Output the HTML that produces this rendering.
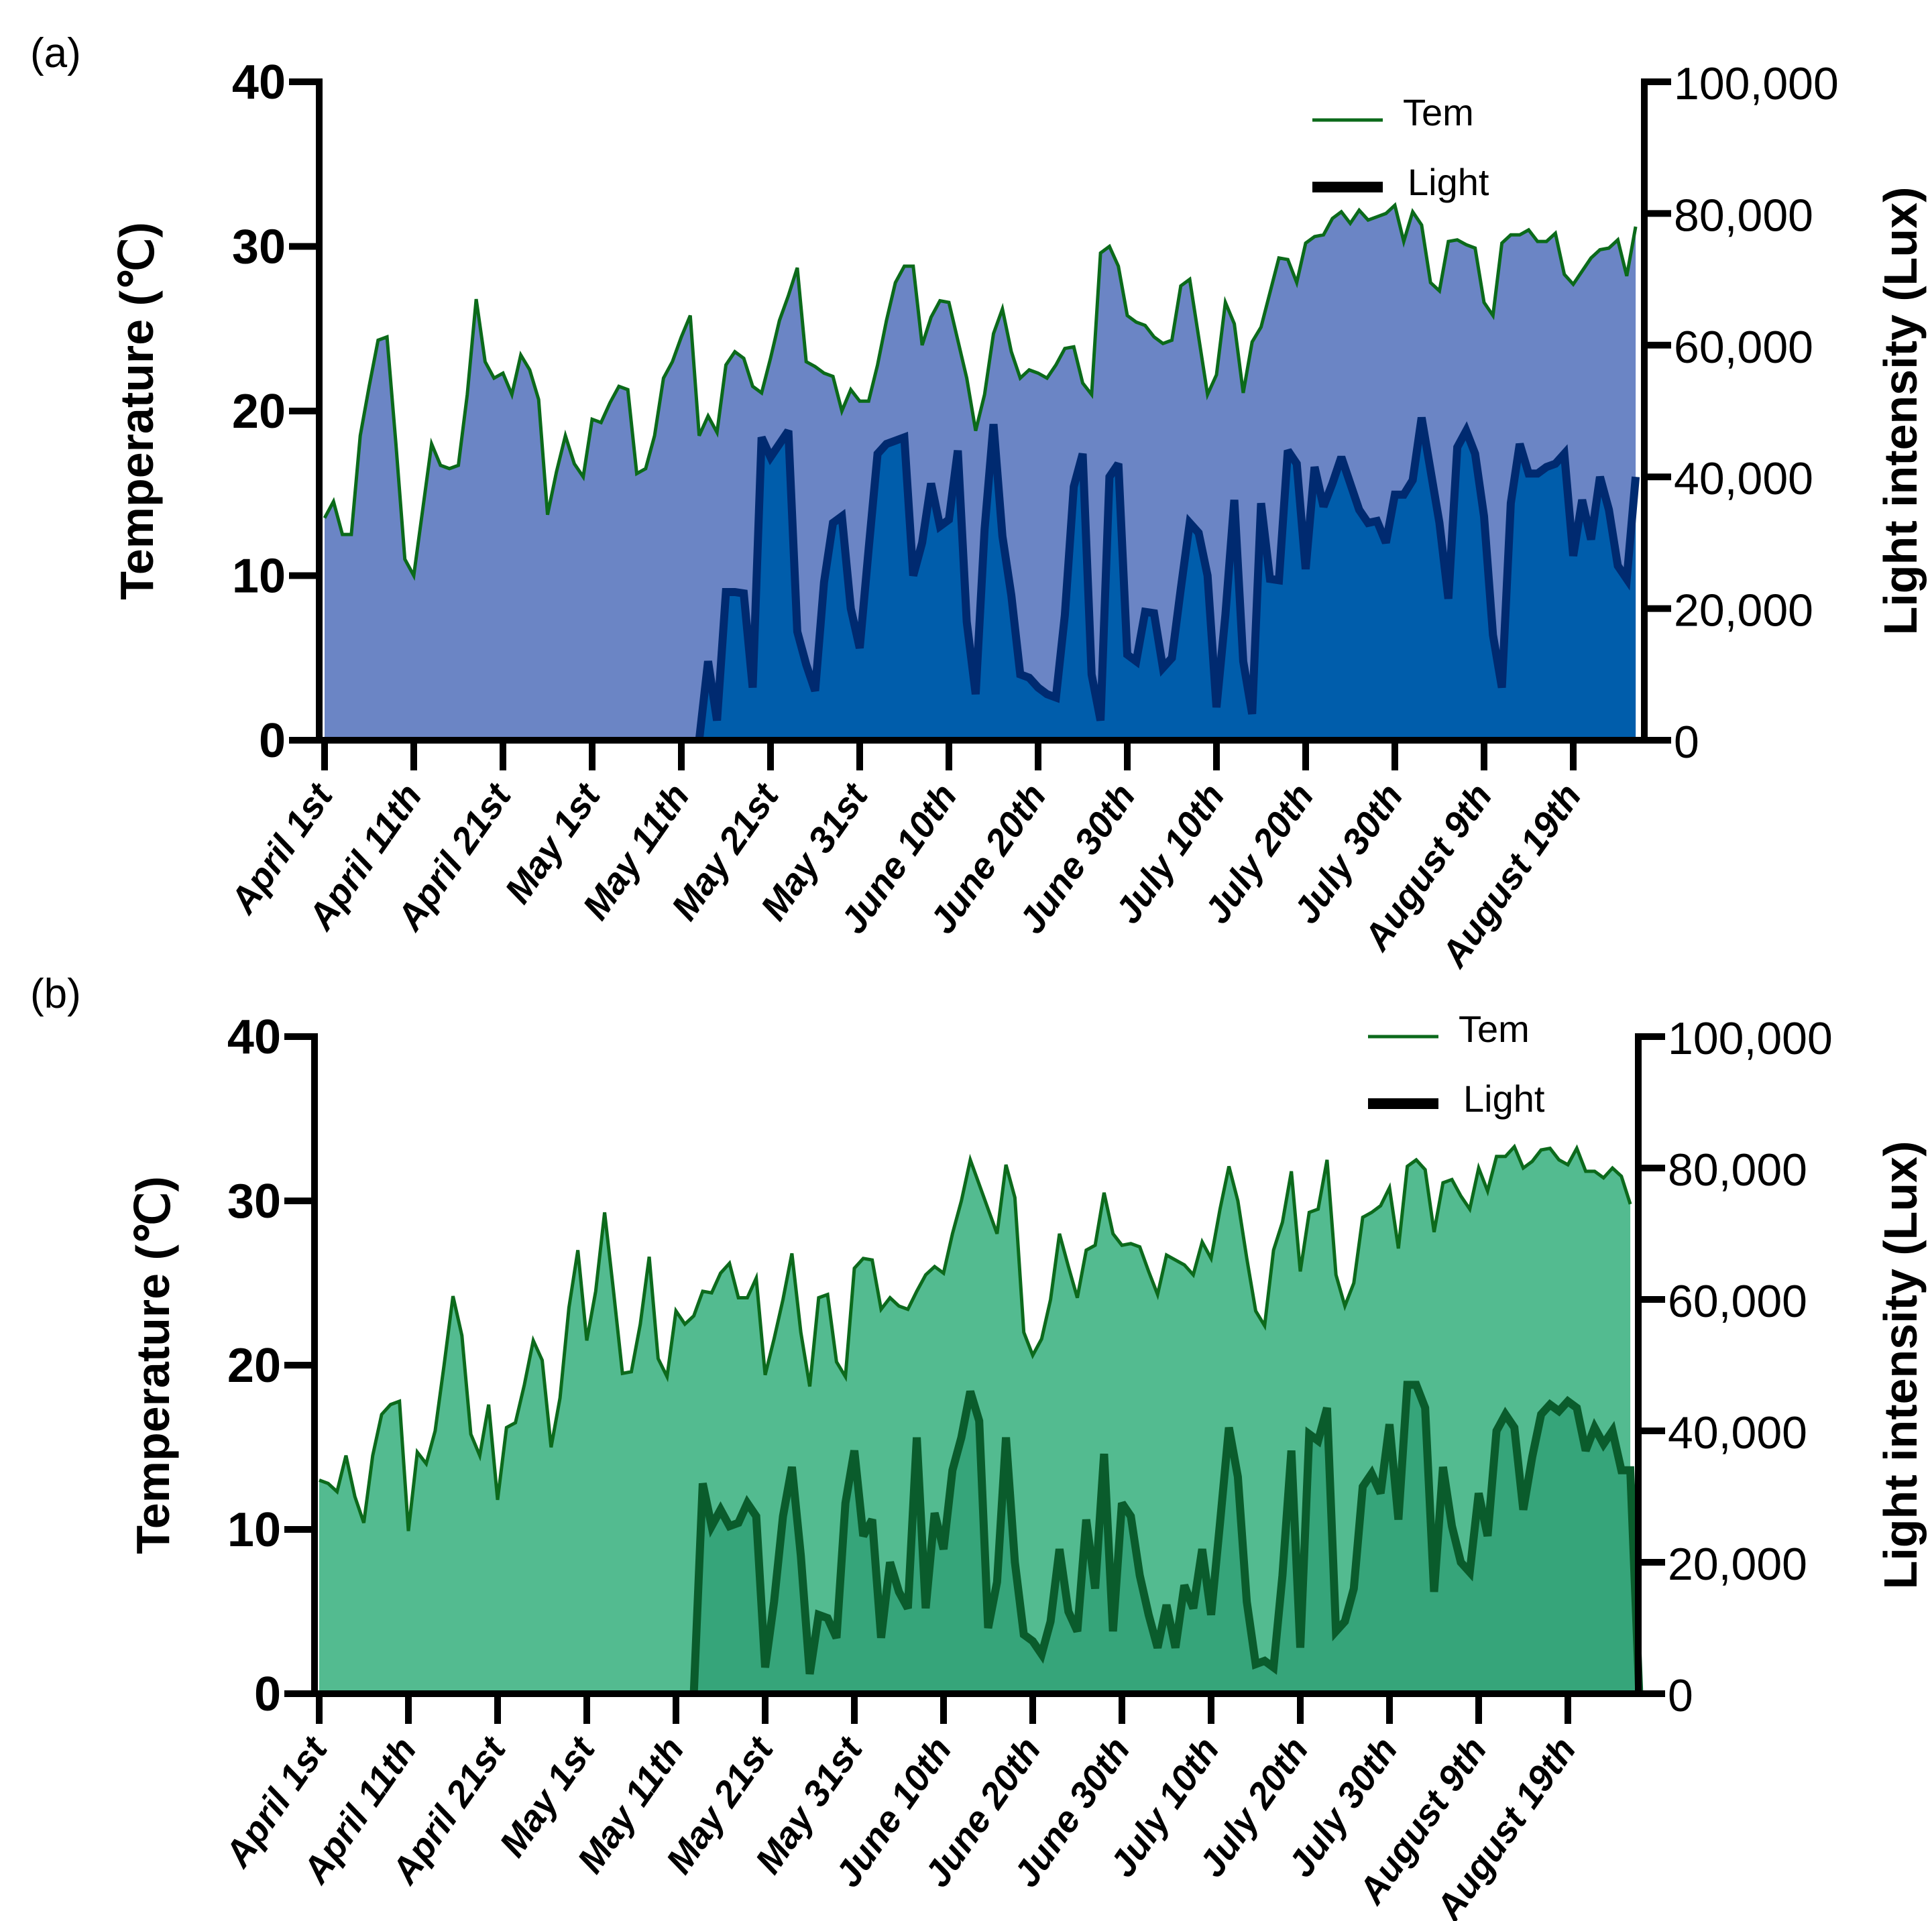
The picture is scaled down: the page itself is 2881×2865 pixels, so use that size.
<!DOCTYPE html>
<html><head><meta charset="utf-8">
<style>
html,body{margin:0;padding:0;background:#fff;}
svg{display:block;font-family:"Liberation Sans",Arial,sans-serif;}
</style></head>
<body>
<svg id="chart" width="2881" height="2865" viewBox="0 0 2881 2865" xmlns="http://www.w3.org/2000/svg"></svg>
<script>
const dateLabels = ["April 1st","April 11th","April 21st","May 1st","May 11th","May 21st","May 31st","June 10th","June 20th","June 30th","July 10th","July 20th","July 30th","August 9th","August 19th"];
const leftTicks = [0,10,20,30,40];
const rightTicks = [0,20000,40000,60000,80000,100000];
const rightTickLabels = ["0","20,000","40,000","60,000","80,000","100,000"];

const temA = [13.5,14.5,12.5,12.5,18.5,21.5,24.3,24.5,18,11,
10,14,18,16.7,16.5,16.7,21,26.8,23,22,
22.3,21,23.4,22.5,20.7,13.7,16.3,18.5,16.8,16,
19.5,19.3,20.5,21.5,21.3,16.2,16.5,18.5,22,23,
24.5,25.8,18.5,19.7,18.7,22.8,23.6,23.2,21.5,21.1,
23.2,25.5,27,28.7,23,22.7,22.3,22.1,20,21.3,
20.6,20.6,22.8,25.5,27.8,28.8,28.8,24,25.7,26.7,
26.6,24.3,22,18.8,21,24.7,26.2,23.6,22,22.5,
22.3,22,22.8,23.8,23.9,21.7,21,29.6,30,28.8,
25.8,25.4,25.2,24.5,24.1,24.3,27.6,28,24.5,21,
22.2,26.6,25.3,21.1,24.2,25.1,27.2,29.3,29.2,27.8,
30.2,30.6,30.7,31.7,32.1,31.4,32.2,31.6,31.8,32,
32.5,30.3,32.1,31.3,27.8,27.3,30.3,30.4,30.1,29.9,
26.6,25.8,30.2,30.7,30.7,31,30.3,30.3,30.8,28.3,
27.7,28.5,29.3,29.8,29.9,30.4,28.2,31.2];
const lightA = [0,0,0,0,0,0,0,0,0,0,0,0,0,0,0,0,0,0,0,0,
0,0,0,0,0,0,0,0,0,0,0,0,0,0,0,0,0,0,0,0,0,0,0,
12000,3000,22500,22500,22300,8000,46000,43000,45000,47000,16500,11500,7500,24000,33000,34000,20000,14000,
29000,43500,45000,45500,46000,25000,30000,39000,32500,33500,44000,18000,7000,32000,48000,31000,22000,10000,9500,
8000,7000,6500,19000,38500,43500,10000,3000,40000,42000,13000,12000,19500,19300,11000,12500,23000,33000,31500,25000,
5000,19000,36500,12000,4000,36000,24500,24300,44000,42000,26000,41500,35500,39000,43000,39000,35000,33000,33300,30000,
37300,37300,39500,49000,41000,33000,21500,44500,47000,43500,34000,16000,8000,36000,45000,40500,40500,41500,42000,43500,
28000,36500,30500,40000,35000,26500,24500,40000];

const temB = [13,12.8,12.3,14.5,12,10.4,14.5,17,17.6,17.8,
9.9,14.7,14,16,20,24.2,21.8,15.8,14.5,17.6,
11.8,16.2,16.5,18.8,21.5,20.3,15,18,23.5,27,
21.5,24.5,29.3,24.5,19.5,19.6,22.5,26.6,20.4,19.3,
23.3,22.5,23,24.5,24.4,25.6,26.2,24.1,24.1,25.3,
19.4,21.6,24,26.8,22,18.7,24.1,24.3,20.2,19.3,
25.9,26.5,26.4,23.4,24.1,23.6,23.4,24.5,25.5,26,
25.6,28,30,32.5,31,29.5,28,32.2,30.2,22,
20.6,21.6,24,28,26,24.1,27,27.3,30.5,28,
27.3,27.4,27.2,25.7,24.3,26.7,26.4,26.1,25.5,27.5,
26.5,29.5,32.1,30,26.5,23.3,22.4,27,28.7,31.8,
25.7,29.3,29.5,32.5,25.5,23.6,25,29,29.3,29.7,
30.8,27.1,32.1,32.5,31.9,28.1,31.1,31.3,30.3,29.5,
32,30.6,32.7,32.7,33.3,32,32.4,33.1,33.2,32.5,
32.2,33.2,31.8,31.8,31.4,32,31.5,29.8];
const lightB = [0,0,0,0,0,0,0,0,0,0,0,0,0,0,0,0,0,0,0,0,
0,0,0,0,0,0,0,0,0,0,0,0,0,0,0,0,0,0,0,0,0,0,0,
32000,25500,28000,25500,26000,29000,27000,4000,14000,27000,34500,21000,3000,12000,11500,8500,29000,37000,24000,26500,
8500,20000,15500,13000,39000,13000,27500,22000,34000,39000,46000,41500,10000,17000,39000,20000,9000,8000,6000,11000,
22000,12500,9500,26500,16000,36500,9500,29000,27000,18000,12000,7000,13500,7000,16500,13000,22000,12000,26000,40500,
33000,14000,4500,5000,4000,18000,37000,7000,39500,38500,43500,9500,11000,16000,31500,33500,30500,41000,26500,47000,
47000,43500,15500,34500,25500,20000,18500,30500,24000,40000,42500,40500,28000,36000,42500,44000,43000,44500,43500,37000,
40500,38000,40000,34000,34000,0];

const NS = "http://www.w3.org/2000/svg";
const svg = document.getElementById('chart');
function mk(tag, attrs, parent){
  const e = document.createElementNS(NS, tag);
  for (const k in attrs) e.setAttribute(k, attrs[k]);
  (parent||svg).appendChild(e);
  return e;
}

function panel(cfg){
  const g = mk('g', {});
  
  
  const xS = i => cfg.x0 + i*cfg.step;
  const yT = v => cfg.y0 - (v/40)*(cfg.y0-cfg.y40);
  const yL = v => cfg.y0 - (v/100000)*(cfg.y0-cfg.y40);

  let d = 'M'+xS(0)+','+cfg.y0;
  cfg.tem.forEach((v,i)=>{ d += ' L'+xS(i).toFixed(1)+','+yT(v).toFixed(1); });
  d += ' L'+xS(cfg.tem.length-1).toFixed(1)+','+cfg.y0+' Z';
  const ta = mk('path', {d:d, fill:cfg.temFill}, g);
  
  
  let dl = '';
  cfg.tem.forEach((v,i)=>{ dl += (i?' L':'M')+xS(i).toFixed(1)+','+yT(v).toFixed(1); });
  const tl = mk('path', {d:dl, fill:'none', stroke:cfg.temLine, 'stroke-width':5, 'stroke-linejoin':'miter'}, g);
  
  

  let la = 'M'+xS(0)+','+cfg.y0;
  cfg.light.forEach((v,i)=>{ la += ' L'+xS(i).toFixed(1)+','+yL(v).toFixed(1); });
  la += ' L'+xS(cfg.light.length-1).toFixed(1)+','+cfg.y0+' Z';
  const lap = mk('path', {d:la, fill:cfg.lightFill}, g);
  
  
  let ll = '';
  let started = false;
  cfg.light.forEach((v,i)=>{
    if (!started && v===0 && cfg.light[i+1]===0) return;
    ll += (started?' L':'M')+xS(i).toFixed(1)+','+yL(v).toFixed(1);
    started = true;
  });
  const llp = mk('path', {d:ll, fill:'none', stroke:cfg.lightLine, 'stroke-width':12, 'stroke-linejoin':'miter','stroke-miterlimit':3}, g);
  
  

  const ax = mk('g', {stroke:'#000'}, g);
  
  
  mk('line', {x1:cfg.lx, y1:cfg.y40-5, x2:cfg.lx, y2:cfg.y0+5, 'stroke-width':10}, ax);
  mk('line', {x1:cfg.rx, y1:cfg.y40-5, x2:cfg.rx, y2:cfg.y0+5, 'stroke-width':10}, ax);
  mk('line', {x1:cfg.lx-45, y1:cfg.y0, x2:cfg.rx+40, y2:cfg.y0, 'stroke-width':10}, ax);

  leftTicks.forEach(v=>{
    const y = yT(v);
    mk('line', {x1:cfg.lx-45, y1:y, x2:cfg.lx, y2:y, 'stroke-width':10}, ax);
    const t = mk('text', {x:cfg.lx-50, y:y+25, 'text-anchor':'end', 'font-size':72, 'font-weight':'bold', fill:'#000', stroke:'none'}, g);
    t.textContent = v;
    
    
  });
  rightTicks.forEach((v,k)=>{
    const y = yL(v);
    mk('line', {x1:cfg.rx, y1:y, x2:cfg.rx+40, y2:y, 'stroke-width':10}, ax);
    const t = mk('text', {x:cfg.rx+44, y:y+26, 'text-anchor':'start', 'font-size':68, fill:'#000', stroke:'none'}, g);
    t.textContent = rightTickLabels[k];
    
    
  });
  dateLabels.forEach((lab,k)=>{
    const x = xS(k*10);
    mk('line', {x1:x, y1:cfg.y0, x2:x, y2:cfg.y0+45, 'stroke-width':10}, ax);
    const t = mk('text', {x:0, y:0, 'text-anchor':'end', 'font-size':55, 'font-weight':'bold', 'font-style':'italic', fill:'#000', stroke:'none',
      transform:'translate('+(x+14)+','+(cfg.y0+82)+') rotate(-55)'}, g);
    t.textContent = lab;
    
    
  });

  const yt = mk('text', {x:0, y:0, 'text-anchor':'middle', 'font-size':70, 'font-weight':'bold', fill:'#000',
    transform:'translate('+cfg.ytx+','+((cfg.y0+cfg.y40)/2)+') rotate(-90)'}, g);
  yt.textContent = 'Temperature (℃)';
  
  
  const yr = mk('text', {x:0, y:0, 'text-anchor':'middle', 'font-size':70, 'font-weight':'bold', fill:'#000',
    transform:'translate('+cfg.yrx+','+((cfg.y0+cfg.y40)/2)+') rotate(-90)'}, g);
  yr.textContent = 'Light intensity (Lux)';
  
  

  const pl = mk('text', {x:45, y:cfg.labelY, 'font-size':62, fill:'#000'}, g);
  pl.textContent = cfg.label;
  
  

  const lg = mk('g', {}, g);
  
  
  mk('line', {x1:cfg.legX, y1:cfg.legY, x2:cfg.legX+105, y2:cfg.legY, stroke:cfg.temLine, 'stroke-width':5}, lg);
  const t1 = mk('text', {x:cfg.legX+135, y:cfg.legY+8, 'font-size':56, fill:'#000'}, lg);
  t1.textContent = 'Tem';
  
  
  mk('line', {x1:cfg.legX, y1:cfg.legY+100, x2:cfg.legX+105, y2:cfg.legY+100, stroke:'#000', 'stroke-width':16}, lg);
  const t2 = mk('text', {x:cfg.legX+142, y:cfg.legY+112, 'font-size':56, fill:'#000'}, lg);
  t2.textContent = 'Light';
  
  
}

panel({name:'panel-a', label:'(a)', labelY:100, tem:temA, light:lightA,
  x0:484, step:13.3, lx:476, rx:2452, y0:1104, y40:122,
  temFill:'#6b85c5', temLine:'#0b6a1a', lightFill:'#005dab', lightLine:'#002a70',
  ytx:228, yrx:2858, legX:1957, legY:179});
panel({name:'panel-b', label:'(b)', labelY:1503, tem:temB, light:lightB,
  x0:476, step:13.3, lx:469, rx:2443, y0:2526, y40:1546,
  temFill:'#53bb90', temLine:'#0c6a1c', lightFill:'#36a57a', lightLine:'#0a5c2c',
  ytx:252, yrx:2858, legX:2040, legY:1546});
</script>
</body></html>
